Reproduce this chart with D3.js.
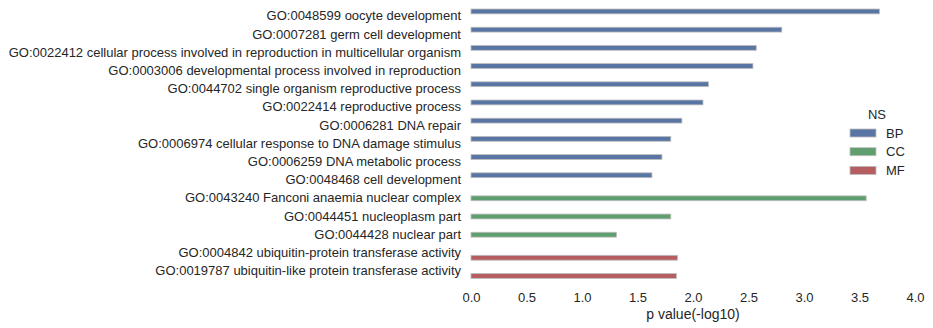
<!DOCTYPE html>
<html>
<head>
<meta charset="utf-8">
<script src="https://cdn.jsdelivr.net/npm/d3@7"></script>
<style>
body { margin: 0; background: #fff; }
text { font-family: "Liberation Sans", Arial, sans-serif; fill: #262626; }
</style>
</head>
<body>
<div id="chart"></div>
<script>
// GO terms, top to bottom
var terms = [
  "GO:0048599 oocyte development",
  "GO:0007281 germ cell development",
  "GO:0022412 cellular process involved in reproduction in multicellular organism",
  "GO:0003006 developmental process involved in reproduction",
  "GO:0044702 single organism reproductive process",
  "GO:0022414 reproductive process",
  "GO:0006281 DNA repair",
  "GO:0006974 cellular response to DNA damage stimulus",
  "GO:0006259 DNA metabolic process",
  "GO:0048468 cell development",
  "GO:0043240 Fanconi anaemia nuclear complex",
  "GO:0044451 nucleoplasm part",
  "GO:0044428 nuclear part",
  "GO:0004842 ubiquitin-protein transferase activity",
  "GO:0019787 ubiquitin-like protein transferase activity"
];
var pvals = [3.68, 2.80, 2.57, 2.54, 2.14, 2.09, 1.90, 1.80, 1.72, 1.63, 3.56, 1.80, 1.31, 1.86, 1.85];
var ns = ["BP", "BP", "BP", "BP", "BP", "BP", "BP", "BP", "BP", "BP", "CC", "CC", "CC", "MF", "MF"];
var groups = ["BP", "CC", "MF"];
var xTicks = [0, 0.5, 1, 1.5, 2, 2.5, 3, 3.5, 4];

var width = 933, height = 328;
var colors = d3.scaleOrdinal().domain(groups).range(["#5975a4", "#5f9e6e", "#b55d60"]);

var svg = d3.select("#chart").append("svg")
  .attr("width", width)
  .attr("height", height);

var xScale = d3.scaleLinear().domain([0, 4]).range([471, 915]);

var yScale = d3.scaleBand().domain(terms).range([7.2, 280.2]).paddingInner(0.2).paddingOuter(0.1);
// seaborn style hue dodge inside each band
var hueScale = d3.scaleBand().domain(groups).range([0, yScale.bandwidth()]);

svg.selectAll("rect.bar")
  .data(terms)
  .enter().append("rect")
  .attr("class", "bar")
  .attr("x", xScale(0))
  .attr("y", function(d, i) { return yScale(d) + hueScale(ns[i]); })
  .attr("width", function(d, i) { return xScale(pvals[i]) - xScale(0); })
  .attr("height", hueScale.bandwidth())
  .attr("fill", function(d, i) { return colors(ns[i]); })
  .attr("stroke", "#bdbdbd")
  .attr("stroke-width", 0.8);

//y axis labels
var yAxis = d3.axisLeft(yScale).tickSize(0).tickPadding(10);
svg.append("g")
  .attr("transform", "translate(471,0)")
  .call(yAxis)
  .call(function(g) { g.select(".domain").remove(); })
  .selectAll("text")
  .attr("font-size", 13)
  .attr("font-family", null);

//x axis
var xAxis = d3.axisBottom(xScale).tickValues(xTicks).tickFormat(d3.format(".1f")).tickSize(0).tickPadding(10);
svg.append("g")
  .attr("transform", "translate(0,283)")
  .call(xAxis)
  .call(function(g) { g.select(".domain").remove(); })
  .selectAll("text")
  .attr("font-size", 13)
  .attr("font-family", null);

svg.append("text")
  .attr("x", xScale(2))
  .attr("y", 319)
  .attr("text-anchor", "middle")
  .attr("font-size", 14)
  .text("p value(-log10)");

//legend
var legend = svg.append("g");
legend.append("text")
  .attr("x", 877)
  .attr("y", 119)
  .attr("text-anchor", "middle")
  .attr("font-size", 13)
  .text("NS");

var items = legend.selectAll("g.item")
  .data(groups)
  .enter().append("g")
  .attr("class", "item")
  .attr("transform", function(d, i) { return "translate(850," + (129 + i * 18.7) + ")"; });

items.append("rect")
  .attr("width", 26)
  .attr("height", 8)
  .attr("fill", function(d) { return colors(d); })
  .attr("stroke", "#bdbdbd")
  .attr("stroke-width", 0.8);

items.append("text")
  .attr("x", 36)
  .attr("y", 8.5)
  .attr("font-size", 13)
  .text(function(d) { return d; });
</script>
</body>
</html>
